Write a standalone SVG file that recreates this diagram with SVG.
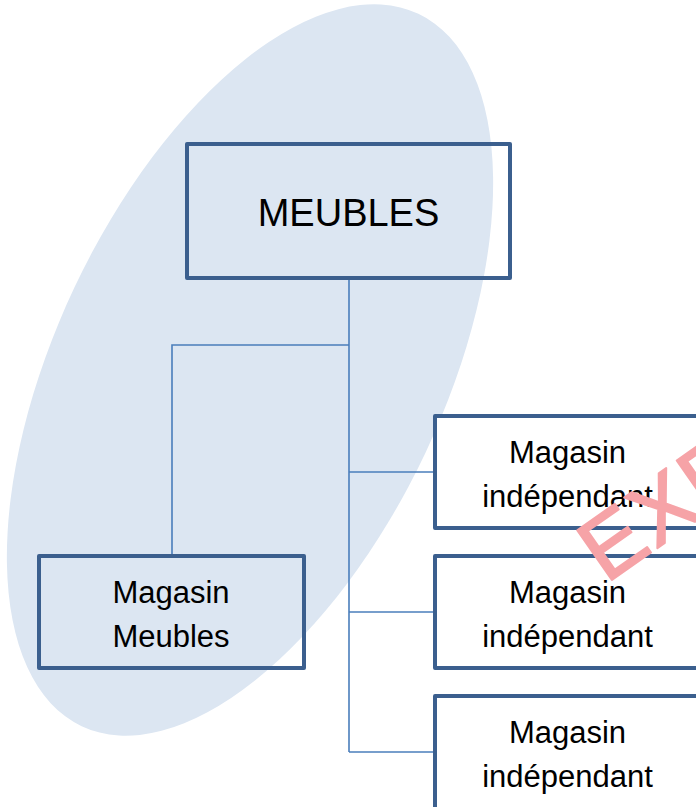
<svg xmlns="http://www.w3.org/2000/svg" width="696" height="807" viewBox="0 0 696 807">
<style>
.box{fill:none;stroke:#3B5F8E;stroke-width:4;stroke-linejoin:round}
.wbox{fill:#FFFFFF;stroke:#3B5F8E;stroke-width:4;stroke-linejoin:round}
.lbl{font-family:"Liberation Sans",Arial,sans-serif;font-size:31px;fill:#000;text-anchor:middle}
.big{font-size:38px}
.conn{fill:none;stroke:#4A7EBB;stroke-width:1.6}
.wm{font-family:"Liberation Sans",Arial,sans-serif;font-size:88px;letter-spacing:2px;fill:#F6A3A7;stroke:#F6A3A7;stroke-width:2;stroke-linejoin:round}
</style>
<rect width="696" height="807" fill="#FFFFFF"/>
<ellipse cx="250" cy="370" rx="194" ry="394" transform="rotate(25.3 250 370)" fill="#DCE6F2"/>
<g id="connectors">
<path class="conn" d="M349 279 V752"/>
<path class="conn" d="M349 345 H172 V555"/>
<path class="conn" d="M349 472 H434"/>
<path class="conn" d="M349 612 H434"/>
<path class="conn" d="M349 752 H434"/>
</g>
<g id="meubles">
<rect class="box" x="187" y="144" width="323" height="134"/>
<text class="lbl big" x="348.5" y="226">MEUBLES</text>
</g>
<g id="magasin-meubles">
<rect class="box" x="39" y="556" width="265" height="112"/>
<text class="lbl" x="171" y="603">Magasin</text>
<text class="lbl" x="171" y="647">Meubles</text>
</g>
<g id="independant-1">
<rect class="wbox" x="435" y="416" width="267" height="112"/>
<text class="lbl" x="567.5" y="463">Magasin</text>
<text class="lbl" x="567.5" y="507">indépendant</text>
</g>
<g id="independant-2">
<rect class="wbox" x="435" y="556" width="267" height="112"/>
<text class="lbl" x="567.5" y="603">Magasin</text>
<text class="lbl" x="567.5" y="647">indépendant</text>
</g>
<g id="independant-3">
<rect class="wbox" x="435" y="696" width="267" height="130"/>
<text class="lbl" x="567.5" y="743">Magasin</text>
<text class="lbl" x="567.5" y="787">indépendant</text>
</g>
<text class="wm" x="606" y="584" transform="rotate(-35 606 584)">EXP</text>
</svg>
